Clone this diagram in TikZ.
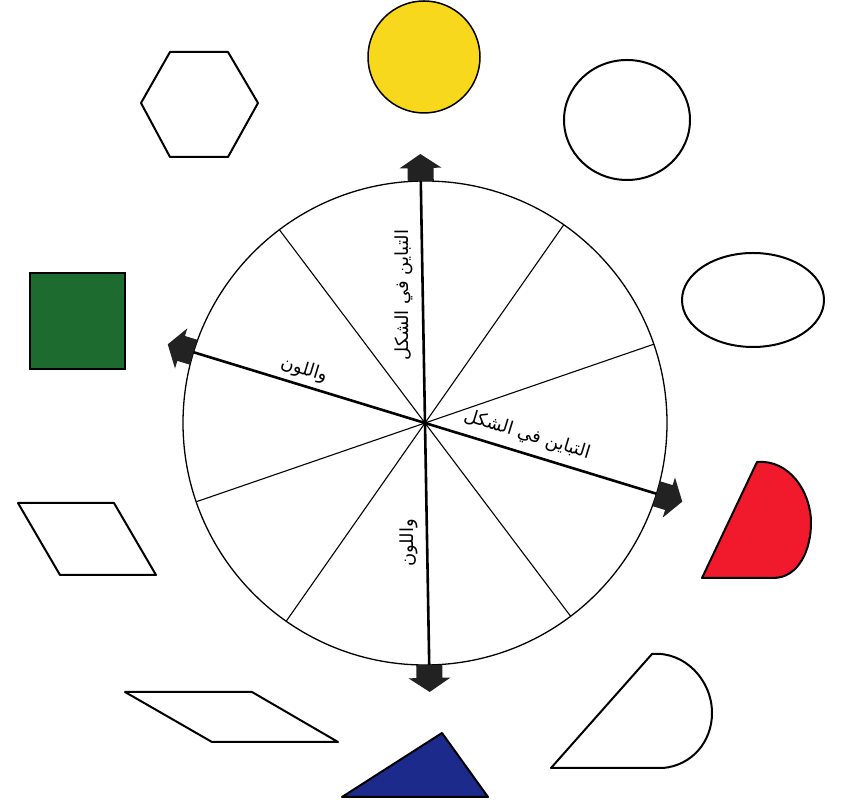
\documentclass[tikz,border=0pt]{standalone}
\usepackage{fontspec}
\newfontfamily\arabicfont[Script=Arabic]{DejaVu Sans}
\TeXXeTstate=1
\usetikzlibrary{calc}
\definecolor{sunyellow}{HTML}{F7D81C}
\definecolor{leafgreen}{HTML}{1E6B30}
\definecolor{navyblue}{HTML}{1C2A8C}
\definecolor{brightred}{HTML}{F01A2C}
\definecolor{arrowgrey}{HTML}{222222}
\begin{document}
\begin{tikzpicture}[x=1pt,y=1pt,
  shapeline/.style={draw=black,line width=2pt,line join=round},
  thinrad/.style={line width=1.1pt},
  thickrad/.style={line width=2.6pt},
  blockarrow/.style={fill=arrowgrey},
  lbl/.style={font=\arabicfont\fontsize{18}{20}\selectfont, inner sep=0pt}]
\useasboundingbox (0,0) rectangle (841,805);
\fill[white] (0,0) rectangle (841,805);
% wheel
\coordinate (C) at (425,382);
\foreach \a [count=\i] in {91,127,163,199,235,271,307,343,19,55}
  {\coordinate (p\i) at ($(C)+(\a:242)$);}
\draw[line width=1.3pt] (C) circle (242);
\draw[thinrad] (p2) -- (p7);
\draw[thinrad] (p4) -- (p9);
\draw[thinrad] (p5) -- (p10);
\draw[thickrad] (p1) -- (p6);
\draw[thickrad] (p3) -- (p8);
% block arrows at the ends of the thick diameters
\foreach \p/\a in {p1/91,p6/271,p3/163,p8/343}
  {\fill[blockarrow, shift={(\p)}, rotate=\a]
     (0,-13) -- (13,-13) -- (13,-21) -- (27,0) -- (13,21) -- (13,13) -- (0,13) -- cycle;}
% labels
\node[lbl, rotate=90] (t1) at (404,510) {\beginR التباين في الشكل\endR};
\node[lbl, rotate=-17] (t2) at (304,435) {\beginR واللون\endR};
\node[lbl, rotate=-17] (t3) at (527,370) {\beginR التباين في الشكل\endR};
\node[lbl, rotate=90] (t4) at (409,262) {\beginR واللون\endR};
% shapes around the wheel
\draw[shapeline, fill=white] (141,702) -- (170,753) -- (228,753) -- (258,702) -- (228,648) -- (170,648) -- cycle;
\draw[line width=1.5pt, fill=sunyellow] (424,748) circle (56);
\draw[shapeline, fill=white] (627,685) ellipse [x radius=63, y radius=60];
\draw[shapeline, fill=white] (753,505) ellipse [x radius=71, y radius=47];
\draw[line width=1.5pt, fill=leafgreen] (30,436) rectangle (125,532);
\draw[shapeline, fill=brightred] (702,227) -- (757,343) to[out=5,in=90] (811,282) to[out=-90,in=0] (773,227) -- cycle;
\draw[shapeline, fill=white] (18,302) -- (114,302) -- (156,230) -- (60,230) -- cycle;
\draw[shapeline, fill=white] (551,37) -- (652,151) to[out=5,in=90] (712,92) to[out=-90,in=5] (663,37) -- cycle;
\draw[shapeline, fill=white] (125,113) -- (252,113) -- (338,63) -- (212,63) -- cycle;
\draw[shapeline, fill=navyblue] (442,72) -- (342,8) -- (488,8) -- cycle;
\end{tikzpicture}
\end{document}
